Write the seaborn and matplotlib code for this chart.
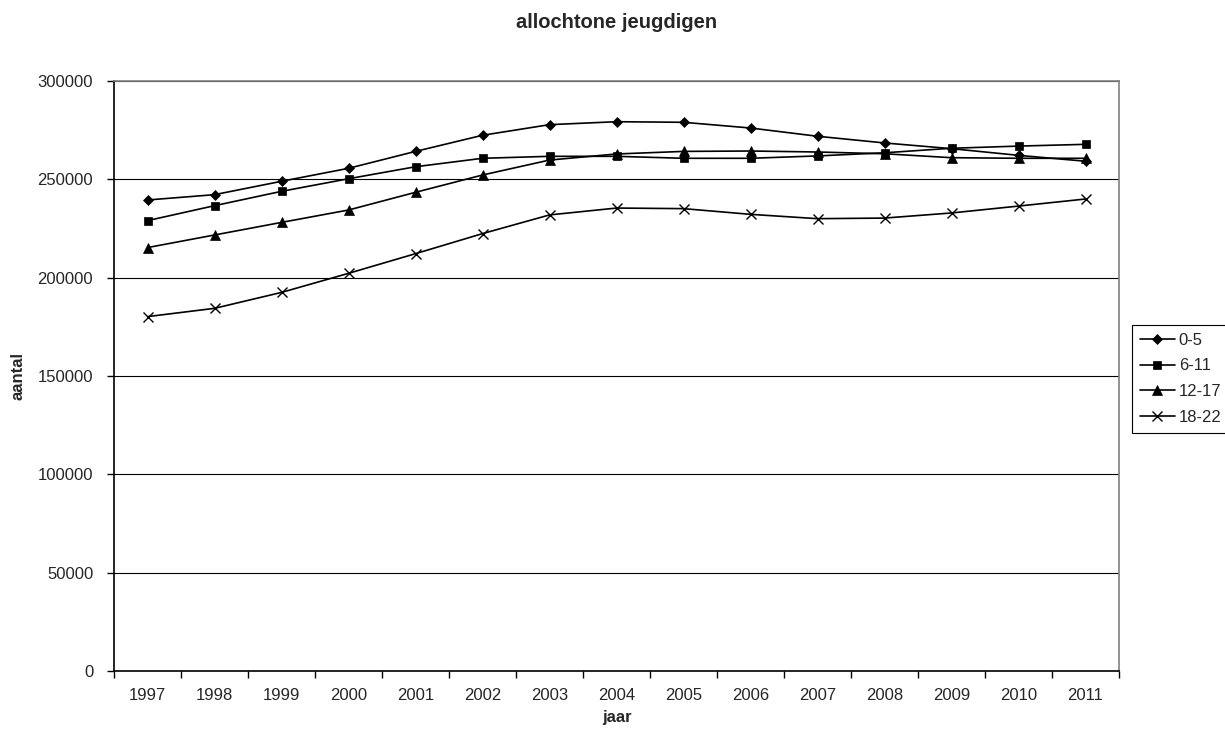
import matplotlib
matplotlib.use('Agg')
import matplotlib.pyplot as plt
from matplotlib.ticker import MultipleLocator
import seaborn as sns
import pandas as pd

# values
jaren = [1997, 1998, 1999, 2000, 2001, 2002, 2003, 2004, 2005, 2006, 2007, 2008, 2009, 2010, 2011]
groepen = ['0-5', '6-11', '12-17', '18-22']
g0_5 = [239500, 242200, 249000, 255600, 264200, 272400, 277800, 279300, 279000, 276100, 271900, 268500, 265600, 262200, 259200]
g6_11 = [229000, 236600, 243900, 250300, 256400, 260700, 261700, 261700, 260700, 260700, 261900, 263500, 265800, 266900, 267800]
g12_17 = [215300, 221700, 228100, 234400, 243400, 252200, 259800, 262900, 264200, 264400, 263900, 263000, 261000, 260700, 260700]
g18_22 = [180200, 184400, 192500, 202200, 212200, 222400, 231900, 235400, 235100, 232200, 230000, 230300, 232900, 236400, 240000]

df = pd.DataFrame({'jaar': jaren * 4,
                   'groep': [g for g in groepen for _ in jaren],
                   'aantal': g0_5 + g6_11 + g12_17 + g18_22})

sns.set_style('white')
plt.rcParams['font.family'] = ['Liberation Sans', 'DejaVu Sans']

fig = plt.figure(figsize=(12.25, 7.35), dpi=100)
ax = fig.add_axes([114 / 1225, 1 - 671 / 735, 1005 / 1225, 590 / 735])

# marker style per age group (Excel-like)
stijlen = {'0-5': ('D', 4.6), '6-11': ('s', 6.3), '12-17': ('^', 6.5), '18-22': ('x', 7)}
for groep in groepen:
    marker, ms = stijlen[groep]
    sns.lineplot(data=df[df.groep == groep], x='jaar', y='aantal', ax=ax, color='black',
                 marker=marker, markersize=ms, markeredgecolor='black', markerfacecolor='black',
                 markeredgewidth=1.0 if marker == 'x' else 0.5, linewidth=1.2, label=groep)

ax.set_xlim(1996.5, 2011.5)
ax.set_ylim(0, 300000)
ax.set_xticks(jaren)
ax.xaxis.set_minor_locator(MultipleLocator(1, offset=0.5))
ax.yaxis.set_major_locator(MultipleLocator(50000))
ax.tick_params(axis='x', which='major', length=0, pad=12, labelsize=12)
ax.tick_params(axis='x', which='minor', length=5, width=1, color='black', direction='out', bottom=True)
ax.tick_params(axis='y', length=5, width=1, color='black', direction='out', left=True, pad=10, labelsize=12)

ax.yaxis.grid(True, color='black', linewidth=0.8)
ax.set_axisbelow(True)
for side in ['left', 'bottom']:
    ax.spines[side].set_color('black')
    ax.spines[side].set_linewidth(1.2)
for side in ['top', 'right']:
    ax.spines[side].set_color('#808080')
    ax.spines[side].set_linewidth(1.2)

ax.set_title('allochtone jeugdigen', fontsize=14.5, fontweight='bold', pad=38)
ax.set_xlabel('jaar', fontsize=12, fontweight='bold')
ax.set_ylabel('aantal', fontsize=12, fontweight='bold')
ax.xaxis.set_label_coords(0.5, -0.066)
ax.yaxis.set_label_coords(-0.0876, 0.5)

leg = ax.legend(loc='upper left', bbox_to_anchor=(1132 / 1225, 1 - 325 / 735),
                bbox_transform=fig.transFigure, borderaxespad=0, fontsize=12,
                frameon=True, fancybox=False, framealpha=1, edgecolor='black',
                handlelength=2.1, handletextpad=0.25, labelspacing=0.65, borderpad=0.45)
leg.get_frame().set_linewidth(0.8)

fig.savefig('out.png', dpi=100)
